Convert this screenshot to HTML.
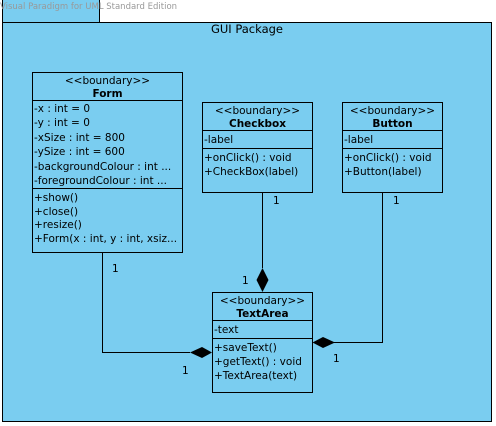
<!DOCTYPE html>
<html><head><meta charset="utf-8"><style>
html,body{margin:0;padding:0;background:#fff;}
svg{display:block;}
text{font-family:"DejaVu Sans","Liberation Sans",sans-serif;font-size:10.5px;fill:#000;}
.b{font-weight:bold;}
</style></head><body>
<svg width="496" height="426" viewBox="0 0 496 426" xmlns="http://www.w3.org/2000/svg">
<rect x="2.5" y="-1" width="97" height="23.5" fill="#7acdf0" stroke="#000"/>
<rect x="2.5" y="22.5" width="489" height="399" fill="#7acdf0" stroke="#000"/>
<text x="0" y="9" style="font-size:8.5px;fill:#999">Visual Paradigm for UML Standard Edition</text>
<text x="247" y="33" text-anchor="middle" style="font-size:11.5px">GUI Package</text>

<g fill="none" stroke="#000">
<rect x="32.5" y="72.5" width="150" height="180"/>
<line x1="32.5" y1="100.5" x2="182.5" y2="100.5"/>
<line x1="32.5" y1="188.5" x2="182.5" y2="188.5"/>
<rect x="202.5" y="102.5" width="110" height="90"/>
<line x1="202.5" y1="130.5" x2="312.5" y2="130.5"/>
<line x1="202.5" y1="148.5" x2="312.5" y2="148.5"/>
<rect x="342.5" y="102.5" width="100" height="90"/>
<line x1="342.5" y1="130.5" x2="442.5" y2="130.5"/>
<line x1="342.5" y1="148.5" x2="442.5" y2="148.5"/>
<rect x="212.5" y="292.5" width="100" height="100"/>
<line x1="212.5" y1="320.5" x2="312.5" y2="320.5"/>
<line x1="212.5" y1="338.5" x2="312.5" y2="338.5"/>
<polyline points="102.5,252.5 102.5,352.5 190,352.5"/>
<line x1="262.5" y1="192.5" x2="262.5" y2="268"/>
<polyline points="382.5,192.5 382.5,342.5 334,342.5"/>
</g>
<polygon points="212,352.5 202,347 190,352.5 202,358" fill="#000"/>
<polygon points="262.5,292 256.5,280 262.5,268 268.5,280" fill="#000"/>
<polygon points="312.5,342.5 323,337 335,342.5 323,348" fill="#000"/>

<text x="107.5" y="84" text-anchor="middle">&lt;&lt;boundary&gt;&gt;</text>
<text x="107.5" y="97" text-anchor="middle" class="b">Form</text>
<text x="34" y="112">-x : int = 0</text>
<text x="34" y="126">-y : int = 0</text>
<text x="34" y="141">-xSize : int = 800</text>
<text x="34" y="155">-ySize : int = 600</text>
<text x="34" y="170">-backgroundColour : int ...</text>
<text x="34" y="184">-foregroundColour : int ...</text>
<text x="34" y="201">+show()</text>
<text x="34" y="215">+close()</text>
<text x="34" y="228">+resize()</text>
<text x="34" y="242">+Form(x : int, y : int, xsiz...</text>

<text x="257.5" y="114" text-anchor="middle">&lt;&lt;boundary&gt;&gt;</text>
<text x="257.5" y="127" text-anchor="middle" class="b">Checkbox</text>
<text x="204" y="143">-label</text>
<text x="204" y="161">+onClick() : void</text>
<text x="204" y="175">+CheckBox(label)</text>

<text x="392.5" y="114" text-anchor="middle">&lt;&lt;boundary&gt;&gt;</text>
<text x="392.5" y="127" text-anchor="middle" class="b">Button</text>
<text x="344" y="143">-label</text>
<text x="344" y="161">+onClick() : void</text>
<text x="344" y="175">+Button(label)</text>

<text x="262.5" y="304" text-anchor="middle">&lt;&lt;boundary&gt;&gt;</text>
<text x="262.5" y="317" text-anchor="middle" class="b">TextArea</text>
<text x="214" y="333">-text</text>
<text x="214" y="351">+saveText()</text>
<text x="214" y="365">+getText() : void</text>
<text x="214" y="379">+TextArea(text)</text>

<text x="112" y="272">1</text>
<text x="182" y="374">1</text>
<text x="273" y="204">1</text>
<text x="242" y="284">1</text>
<text x="393" y="204">1</text>
<text x="333" y="362">1</text>
</svg>
</body></html>
